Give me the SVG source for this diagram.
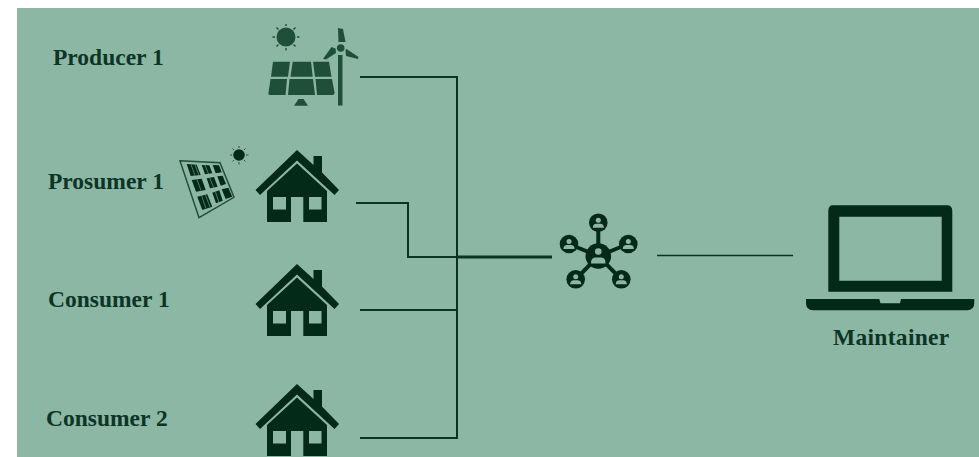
<svg xmlns="http://www.w3.org/2000/svg" width="979" height="457" viewBox="0 0 979 457">
<style>
.t{font-family:"Liberation Serif",serif;font-weight:700;font-size:23.5px;fill:#0c3526}
.c{fill:none;stroke:#0b3322;stroke-width:2}
.d{fill:#032a18}
.g{fill:#1f4f39}
.b{fill:#8db7a5}
</style>
<defs>
<g id="house">
<path class="d" d="M0 0L16.500 15V6H25V22.500L42 40L37.500 45L0 10.500L-37 45L-41.500 40Z"/>
<path class="d" d="M0 13.500L30 41V72H6.300V47H-6V72H-30V41Z"/>
<rect class="b" x="-24" y="47" width="13" height="12.500"/>
<rect class="b" x="12" y="47" width="12.500" height="12.500"/>
</g>
<g id="person">
<circle class="d" r="9.300"/>
<circle class="b" cy="-2.500" r="2.500"/>
<path class="b" d="M-5.500 5C-5.500 1 -3 1 0 1C3 1 5.500 1 5.500 5Z"/>
</g>
</defs>
<rect x="17" y="8" width="962" height="449" fill="#8db7a5"/>
<g id="connectors">
<path class="c" d="M360 77H457V438H360"/>
<path class="c" d="M356 203H408V257H457"/>
<path class="c" d="M360 310H457"/>
<path class="c" d="M457 257H552" style="stroke-width:3"/>
<path class="c" d="M657 255.500H793" style="stroke-width:1.600"/>
</g>
<g id="producer-1">
<text class="t" x="53" y="65">Producer 1</text>
<g class="g">
<circle cx="286" cy="37" r="9.500"/>
<g stroke="#1f4f39" stroke-width="1.400">
<path d="M286 24V26M286 48V50.500M272.500 37H275M297 37H299.500M276.500 27.500L278.500 29.500M293.500 44.500L295.500 46.500M276.500 46.500L278.500 44.500M293.500 29.500L295.500 27.500"/>
</g>
<path d="M273 61.700H290L288 76.700H271Z"/>
<path d="M292.700 61.700H311L312.700 76.700H290.500Z"/>
<path d="M313 61.700H329L331.500 76.700H315Z"/>
<path d="M270.500 79H287L285.500 95H270Q268 95 268.500 92.500Z"/>
<path d="M289.500 79H313L315 95H288Z"/>
<path d="M315.500 79H332L334.500 92.500Q334.500 95 332 95H317Z"/>
<path d="M294 105.700L298.500 99H303.500L308 105.700Z"/>
<rect x="338" y="55" width="4.500" height="50.500"/>
<circle cx="340.700" cy="48" r="3.800"/>
<path d="M338 28L343 29L345.500 42H338.500Z"/>
<path d="M323 59L331.500 47L335.500 48.500L336 53L326 59.500Z"/>
<path d="M345.500 50L346.500 49L358.500 57L358 59L346 56Z"/>
</g>
</g>
<g id="prosumer-1">
<text class="t" x="48" y="189">Prosumer 1</text>
<path d="M180 160.700L220 162.700L234 197.300L199 217.700Z" fill="none" stroke="#1f4f39" stroke-width="1.500"/>
<g class="d">
<path d="M186.700 164L196.700 164.700L200.700 175L190.700 176Z"/>
<path d="M201.700 165L209.300 165.300L212.300 173.300L205 174.300Z"/>
<path d="M212.700 165L219 165.300L221.700 172.300L215.700 173.300Z"/>
<path d="M191.700 180L201.700 178.700L205.700 190L196 191.700Z"/>
<path d="M206.700 178.300L214 177L217.700 186.700L210 188.300Z"/>
<path d="M217.300 176.300L222.700 175.700L226 184L220.700 185.700Z"/>
<path d="M197.300 196.700L207.300 194.300L212.300 206.700L202.300 210Z"/>
<path d="M212.300 192.700L219.300 190.300L222.700 200.700L216 203.300Z"/>
<path d="M221.700 189.300L228.300 187.700L232.300 196.700L225.700 199Z"/>
<circle cx="239" cy="155" r="5.800"/>
<g stroke="#032a18" stroke-width="1" stroke-opacity=".7">
<path d="M239 146V148M239 162V164.500M230 155H232M246 155H248.500M232.500 148.500L234 150M244 160L245.500 161.500M232.500 161.500L234 160M244 150L245.500 148.500"/>
</g>
</g>
<path d="M191 164.500L195 175.500M195 164.500L199 175.500M205 165L208.500 174M197 179.500L201 190.500M209.800 178L213.500 187.500M201.500 195.500L206 208.500M205.500 195L210 207M215.500 192L219 202.500" fill="none" stroke="#8db7a5" stroke-width="0.800" stroke-opacity=".7"/>
<use href="#house" x="297" y="150"/>
</g>
<g id="consumer-1">
<text class="t" x="48" y="307">Consumer 1</text>
<use href="#house" x="297" y="264"/>
</g>
<g id="consumer-2">
<text class="t" x="46" y="426">Consumer 2</text>
<use href="#house" x="297" y="384"/>
</g>
<g id="network">
<g stroke="#032a18" stroke-width="4">
<path d="M598.300 256V223M598.300 256L569 244M598.300 256L628.300 244M598.300 256L575.700 279.300M598.300 256L621.300 279.300"/>
</g>
<circle class="d" cx="598.300" cy="256" r="12.800"/>
<circle class="b" cx="598.300" cy="251.500" r="3.300"/>
<path class="b" d="M591 263.500C591 257.500 594 257.500 598.300 257.500C603 257.500 605.500 257.500 605.500 263.500Z"/>
<use href="#person" x="598.300" y="222.700"/>
<use href="#person" x="569" y="244"/>
<use href="#person" x="628.300" y="244"/>
<use href="#person" x="575.700" y="279.300"/>
<use href="#person" x="621.300" y="279.300"/>
</g>
<g id="maintainer">
<path class="d" fill-rule="evenodd" d="M833 205.300H947Q952.300 205.300 952.300 211V291.700H828.300V211Q828.300 205.300 833 205.300ZM839.300 216.700V280.700H941.700V216.700Z"/>
<path class="d" d="M806 299H879.300L880.500 303.300H900L901 299H974.300V303Q974.300 310.300 967 310.300H813Q806 310.300 806 303Z"/>
<text class="t" x="833" y="345" style="letter-spacing:.3px">Maintainer</text>
</g>
</svg>
